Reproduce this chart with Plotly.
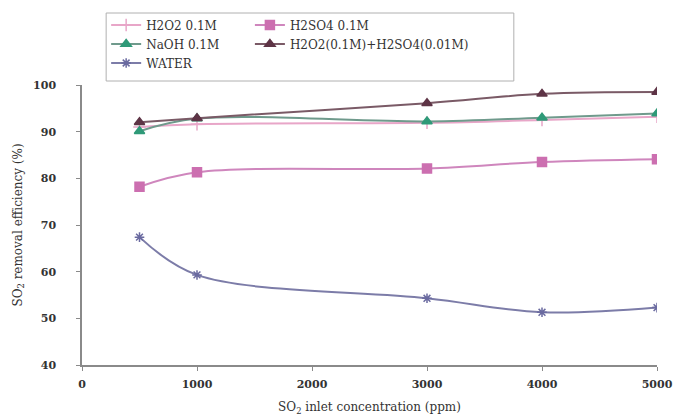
import plotly.graph_objects as go

conc = [500, 1000, 3000, 4000, 5000]
h2o2 = [91.0, 91.6, 91.9, 92.5, 93.2]
h2so4 = [78.2, 81.3, 82.1, 83.5, 84.1]
naoh = [90.1, 92.8, 92.2, 93.0, 93.9]
mix = [92.0, 92.9, 96.1, 98.1, 98.5]
water = [67.4, 59.3, 54.3, 51.3, 52.3]

x_ticks = [0, 1000, 2000, 3000, 4000, 5000]
y_ticks = [40, 50, 60, 70, 80, 90, 100]

SERIF = "DejaVu Serif"

series = [
    ("H2O2 0.1M", h2o2, "#e8a6c8", "#e8a6c8", "cross-thin", 9, "legend"),
    ("H2SO4 0.1M", h2so4, "#cf86bd", "#cc6fb0", "square", 9, "legend2"),
    ("NaOH 0.1M", naoh, "#6f9a8c", "#2f9a78", "triangle-up", 9, "legend"),
    ("H2O2(0.1M)+H2SO4(0.01M)", mix, "#7a5a66", "#5e3446", "triangle-up", 9, "legend2"),
    ("WATER", water, "#7c7ca8", "#6a6aa0", "asterisk-open", 8, "legend"),
]

fig = go.Figure()
for name, vals, lc, mc, sym, ms, lg in series:
    fig.add_trace(go.Scatter(
        x=conc, y=vals, name=name, mode="lines+markers",
        line=dict(color=lc, width=2, shape="spline", smoothing=1.0),
        marker=dict(color=mc, symbol=sym, size=ms,
                    line=dict(color=mc, width=1.5)),
        legend=lg,
    ))

# page geometry: paper spans y=5..365 px, plot area spans y=85..365 px
TOP, BOTTOM = 5, 51
PAPER_H = 416 - TOP - BOTTOM
PLOT_H = 280


def py(pix):
    return (416 - BOTTOM - pix) / PAPER_H


axis_font = dict(family=SERIF, size=11, color="#333333", weight="bold")
legend_font = dict(family=SERIF, size=12, color="#333333")
fig.update_layout(
    width=677, height=416,
    margin=dict(l=82, r=20, t=TOP, b=BOTTOM),
    paper_bgcolor="white", plot_bgcolor="white",
    font=dict(family=SERIF, size=12, color="#333333"),
    showlegend=True,
    legend=dict(x=0.042, y=py(10.5), xanchor="left", yanchor="top",
                orientation="v", bgcolor="rgba(0,0,0,0)", borderwidth=0,
                font=legend_font),
    legend2=dict(x=0.292, y=py(10.5), xanchor="left", yanchor="top",
                 orientation="v", bgcolor="rgba(0,0,0,0)", borderwidth=0,
                 font=legend_font),
    shapes=[dict(type="rect", xref="paper", yref="paper",
                 x0=0.042, x1=0.751, y0=py(81), y1=py(13),
                 line=dict(color="#b0b0b0", width=1), fillcolor="rgba(0,0,0,0)")],
)
fig.update_xaxes(
    range=[0, 5000], tickvals=x_ticks, ticktext=[str(v) for v in x_ticks],
    showgrid=False, zeroline=False, showline=True, linecolor="#8a8a8a", linewidth=1.5,
    ticks="outside", ticklen=4, tickcolor="#8a8a8a", tickfont=axis_font,
    ticklabelstandoff=4, automargin=False,
    title=dict(text="SO<sub>2</sub> inlet concentration (ppm)",
               font=dict(family=SERIF, size=12, color="#333333"), standoff=13),
)
fig.update_yaxes(
    range=[40, 100], tickvals=y_ticks, ticktext=[str(v) for v in y_ticks],
    domain=[0, PLOT_H / PAPER_H],
    showgrid=False, zeroline=False, showline=True, linecolor="#8a8a8a", linewidth=1.5,
    ticks="outside", ticklen=4, tickcolor="#8a8a8a", tickfont=axis_font,
    ticklabelstandoff=18, automargin=False,
    title=dict(text="SO<sub>2</sub> removal efficiency (%)",
               font=dict(family=SERIF, size=12, color="#333333"), standoff=8),
)

fig.write_html("out.html", config={"displayModeBar": False},
               post_script="document.body.style.margin='0px';")
